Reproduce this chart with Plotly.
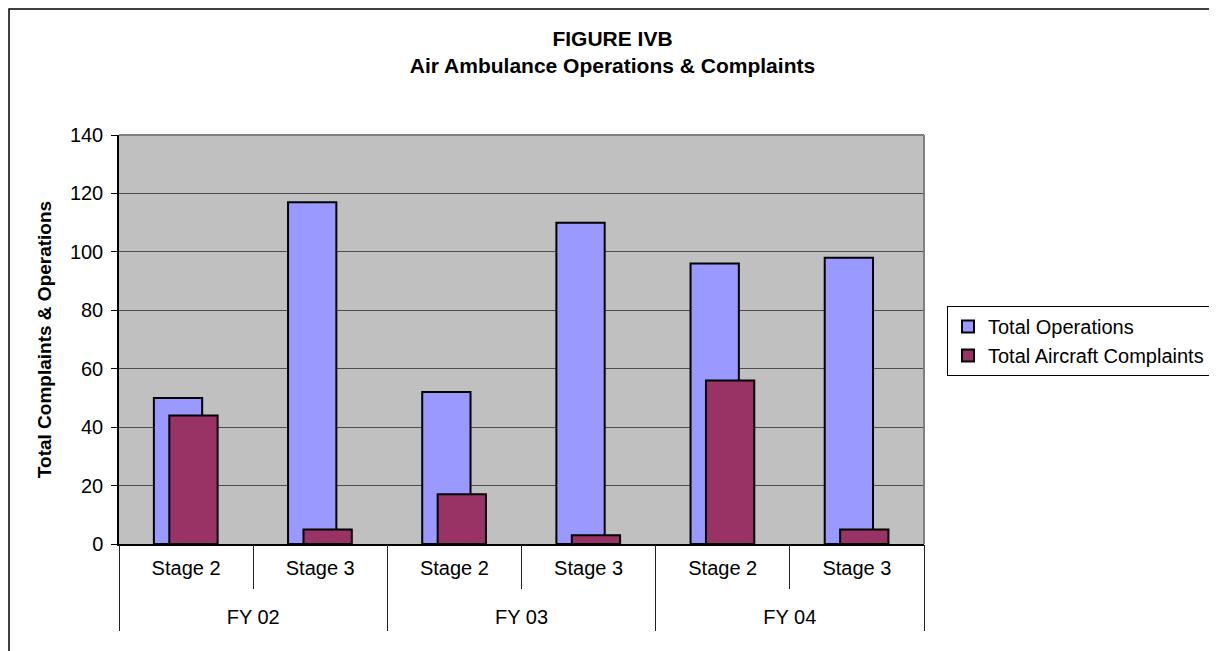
import plotly.graph_objects as go

# ---- data ----
stage_labels = ["Stage 2", "Stage 3", "Stage 2", "Stage 3", "Stage 2", "Stage 3"]
fy_labels = ["FY 02", "FY 03", "FY 04"]
stages_per_fy = 2
total_operations = [50, 117, 52, 110, 96, 98]
total_complaints = [44, 5, 17, 3, 56, 5]
y_ticks = [0, 20, 40, 60, 80, 100, 120, 140]

# ---- geometry (reference pixels; page has an 8px body margin) ----
OFF = 8
W, H = 1217 - OFF, 651 - OFF
L, R, T, B = 119 - OFF, 924 - OFF, 135 - OFF, 544 - OFF
PW, PH = R - L, B - T
FONT = "Liberation Sans, Arial, sans-serif"


def px_x(x):
    return (x - OFF - L) / PW


def px_y(y):
    return (B - (y - OFF)) / PH


n = len(stage_labels)
cat_pos = list(range(n))
stage_bounds = [i - 0.5 for i in range(n + 1)]
fy_bounds = [i * stages_per_fy - 0.5 for i in range(len(fy_labels) + 1)]
fy_centers = [i * stages_per_fy + (stages_per_fy - 1) / 2 for i in range(len(fy_labels))]
x_range = [-0.5, n - 0.5]

fig = go.Figure()
fig.add_trace(go.Bar(
    x=cat_pos, y=total_operations, name="Total Operations",
    marker=dict(color="#9999FF", line=dict(color="black", width=2)),
    width=0.36, offset=-0.24,
))
fig.add_trace(go.Bar(
    x=cat_pos, y=total_complaints, name="Total Aircraft Complaints",
    marker=dict(color="#993366", line=dict(color="black", width=2)),
    width=0.36, offset=-0.125,
))
# empty helper traces so the overlaying label / divider axes get drawn
for ax, xs in (("x2", stage_bounds), ("x3", fy_bounds), ("x4", fy_centers)):
    fig.add_trace(go.Scatter(
        x=xs, y=[None] * len(xs), xaxis=ax, yaxis="y", mode="markers",
        showlegend=False, hoverinfo="skip",
    ))

fig.update_layout(
    width=W, height=H,
    margin=dict(l=L, r=W - R, t=T, b=H - B, autoexpand=False),
    paper_bgcolor="white", plot_bgcolor="#C0C0C0",
    barmode="overlay",
    font=dict(family=FONT, size=20, color="black"),
    title=dict(
        text="<b>FIGURE IVB</b><br><b>Air Ambulance Operations & Complaints</b>",
        x=0.5, xref="container", xanchor="center",
        y=1 - 38 / H, yref="container", yanchor="middle",
        font=dict(family=FONT, size=21, color="black"),
    ),
    legend=dict(
        x=px_x(947), y=px_y(306), xanchor="left", yanchor="top",
        bordercolor="black", borderwidth=1, bgcolor="white",
        font=dict(family=FONT, size=20, color="black"),
    ),
    showlegend=True,
    xaxis=dict(
        range=x_range, tickmode="array", tickvals=cat_pos, ticktext=stage_labels,
        ticks="", ticklabelstandoff=5, showline=True, linecolor="black", linewidth=1.5,
        showgrid=False, zeroline=False,
        tickfont=dict(family=FONT, size=20, color="black"),
    ),
    xaxis2=dict(
        overlaying="x", anchor="y", side="bottom", range=x_range,
        tickmode="array", tickvals=stage_bounds, ticktext=[""] * len(stage_bounds),
        ticks="outside", ticklen=44, tickcolor="#222222", tickwidth=1,
        showline=False, showgrid=False, zeroline=False,
    ),
    xaxis3=dict(
        overlaying="x", anchor="y", side="bottom", range=x_range,
        tickmode="array", tickvals=fy_bounds, ticktext=[""] * len(fy_bounds),
        ticks="outside", ticklen=86, tickcolor="#222222", tickwidth=1,
        showline=False, showgrid=False, zeroline=False,
    ),
    xaxis4=dict(
        overlaying="x", anchor="y", side="bottom", range=x_range,
        tickmode="array", tickvals=fy_centers, ticktext=fy_labels,
        ticks="", ticklabelstandoff=59,
        showline=False, showgrid=False, zeroline=False,
        tickfont=dict(family=FONT, size=20, color="black"),
    ),
    yaxis=dict(
        range=[0, 140], tickvals=y_ticks, ticks="outside", ticklen=6, tickcolor="black",
        ticklabelstandoff=4,
        showline=True, linecolor="black", linewidth=1.5,
        showgrid=True, gridcolor="#4d4d4d", gridwidth=1, zeroline=False,
        tickfont=dict(family=FONT, size=20, color="black"),
        title=dict(text="<b>Total Complaints & Operations</b>", standoff=13,
                   font=dict(family=FONT, size=19, color="black")),
    ),
)

# plot-area border (top, right) in gray
fig.add_shape(type="line", xref="paper", yref="paper", x0=0, x1=1, y0=1, y1=1,
              line=dict(color="#808080", width=2))
fig.add_shape(type="line", xref="paper", yref="paper", x0=1, x1=1, y0=0, y1=1,
              line=dict(color="#808080", width=2))
# outer chart frame
fig.add_shape(type="rect", xref="paper", yref="paper",
              x0=px_x(9), x1=px_x(1215), y0=px_y(680), y1=px_y(9),
              line=dict(color="black", width=1.5), fillcolor="rgba(0,0,0,0)")

fig.write_html("out.html")
